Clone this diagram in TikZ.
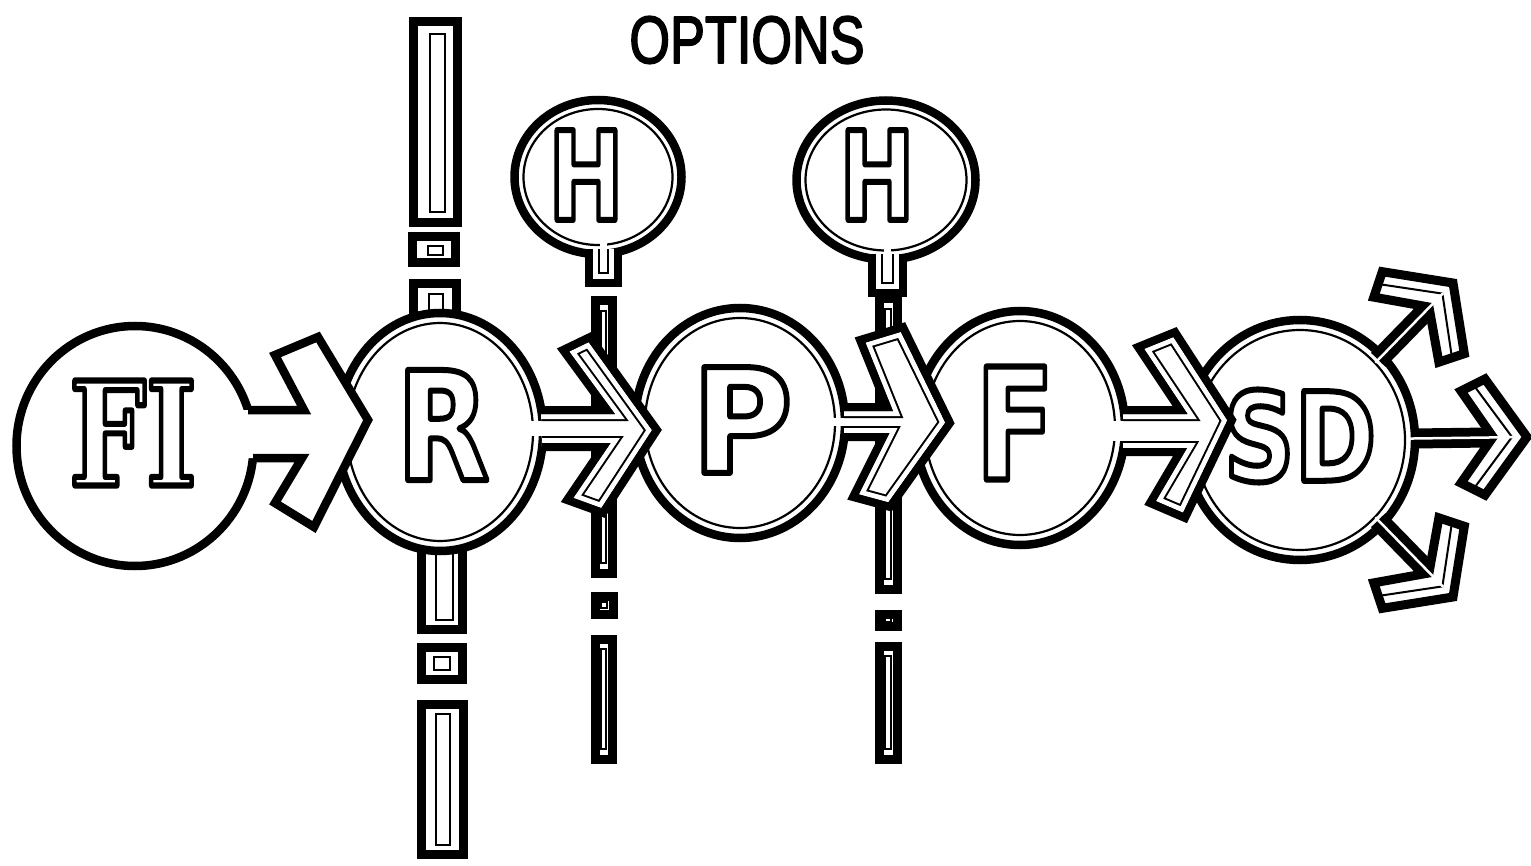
\documentclass[tikz,border=0pt]{standalone}
\usepackage{fontspec}
\usepackage{graphicx}
\usetikzlibrary{shapes.geometric,calc}
\newfontfamily\serifface{DejaVu Serif}
\newfontfamily\sansface{DejaVu Sans}
\newfontfamily\handface{Liberation Sans}
\newcommand\hollowtxt[1]{\special{pdf:literal direct 6 w 1 j 1 Tr}#1\special{pdf:literal direct 0 Tr}}
\newcommand\boldtxt[1]{\special{pdf:literal direct 1.8 w 1 j 2 Tr}#1\special{pdf:literal direct 0 Tr}}
\newcommand\bigletters[4]{{#1\fontsize{#2}{#2}\selectfont\scalebox{#3}[1]{\hollowtxt{#4}}}}
\newcommand\dblarrow[2]{%
  \fill[white] #2;
  \fill[white] #1 -- cycle;
  \begin{scope}
    \clip #1 -- cycle;
    \draw[line width=22pt] #1;
    \draw[white,line width=18pt] #1;
    \draw[line width=8pt] #1;
  \end{scope}
  \draw[line width=8pt] #1;
}
\tikzset{
  ring/.style={ellipse, draw, line width=8.5pt, fill=white, inner sep=0pt, outer sep=0pt},
  innerring/.style={ellipse, draw, line width=2.2pt, inner sep=0pt, outer sep=0pt},
  seg/.style={draw, line width=9pt, fill=white},
  slit/.style={draw, line width=2pt},
  letter/.style={inner sep=0pt, outer sep=0pt},
}
\begin{document}
\begin{tikzpicture}[x=1pt,y=-1pt,line join=miter,miter limit=4]
\fill[white] (0,0) rectangle (1531,866);
\useasboundingbox (0,0) rectangle (1531,866);

% ---- vertical bar through R
\draw[seg] (413,22) rectangle (457,223); \draw[slit] (430,34) rectangle (445,212);
\draw[seg] (412,237) rectangle (455,263); \draw[slit] (428,246) rectangle (443,255);
\draw[seg] (413,284) rectangle (456,340); \draw[slit] (429,294) rectangle (443,330);
\draw[seg] (421,530) rectangle (462,629); \draw[slit] (436,540) rectangle (453,620);
\draw[seg] (421,647) rectangle (462,679); \draw[slit] (434,657) rectangle (450,670);
\draw[seg] (421,704) rectangle (463,854); \draw[slit] (436,714) rectangle (450,845);
% ---- bar under first H
\draw[seg] (595,301) rectangle (612,573); \draw[slit] (601,311) rectangle (606,563);
\draw[seg] (595,596) rectangle (613,614); \draw[slit] (601,602) rectangle (607,608);
\draw[seg] (595,639) rectangle (612,759); \draw[slit] (601,649) rectangle (606,749);
% ---- bar under second H
\draw[seg] (879,299) rectangle (897,589); \draw[slit] (885,309) rectangle (891,579);
\draw[seg] (879,614) rectangle (897,626); \draw[slit] (885,618) rectangle (891,622);
\draw[seg] (879,646) rectangle (897,759); \draw[slit] (885,656) rectangle (891,749);

% ---- circles
\node[ring, minimum width=237pt, minimum height=240pt] (FI) at (135,446) {};
\node[ring, minimum width=206pt, minimum height=238pt] (R) at (440,432) {};
\node[innerring, minimum width=186pt, minimum height=218pt] (Rin) at (R.center) {};
\node[ring, minimum width=210pt, minimum height=230pt] (P) at (740,423) {};
\node[innerring, minimum width=190pt, minimum height=210pt] (Pin) at (P.center) {};
\node[ring, minimum width=210pt, minimum height=234pt] (F) at (1020,428) {};
\node[innerring, minimum width=190pt, minimum height=214pt] (Fin) at (F.center) {};
\node[ring, minimum width=230pt, minimum height=240pt] (SD) at (1300,440) {};
\node[innerring, minimum width=210pt, minimum height=220pt] (SDin) at (SD.center) {};
\node[ring, minimum width=167pt, minimum height=154pt] (H1) at (598,177) {};
\node[innerring, minimum width=149pt, minimum height=136pt] (H1in) at (H1.center) {};
\node[ring, minimum width=179pt, minimum height=159pt] (H2) at (886,180) {};
\node[innerring, minimum width=161pt, minimum height=141pt] (H2in) at (H2.center) {};

% ---- bubble stems of the H circles
\dblarrow{(589,249) -- (589,283) -- (618,283) -- (618,249)}{(600,240) rectangle (607,258)}
\dblarrow{(872,254) -- (872,293) -- (903,293) -- (903,254)}{(884,245) rectangle (891,263)}

% ---- FI -> R
\fill[white] (236,410) -- (304,410) -- (275,355) -- (318,337) -- (368,420) -- (314,527) -- (275,503) -- (302,458) -- (236,458) -- cycle;
\draw[line width=8.5pt] (248,410) -- (304,410) -- (275,355) -- (318,337) -- (368,420) -- (314,527) -- (275,503) -- (302,458) -- (253,458);
% ---- R -> P
\dblarrow{(541,410) -- (607,410) -- (563,350) -- (590,337) -- (657,430) -- (603,513) -- (567,500) -- (603,447) -- (542,447)}{(526,421) rectangle (545,436)}
% ---- P -> F
\dblarrow{(844,407) -- (887,407) -- (860,340) -- (903,327) -- (950,423) -- (890,507) -- (853,497) -- (883,437) -- (844,437)}{(830,418) rectangle (848,426)}
% ---- F -> SD
\dblarrow{(1123,410) -- (1180,410) -- (1138,347) -- (1175,332) -- (1232,420) -- (1185,518) -- (1150,503) -- (1180,452) -- (1123,452)}{(1108,421) rectangle (1127,441)}

% ---- SD outputs
\coordinate (o1) at (1453,283);
\coordinate (o2) at (1527,437);
\coordinate (o3) at (1453,597);
\foreach \o/\a in {o1/45,o2/0,o3/-45}{
  \draw[line width=20pt] ($(SD.center)!112pt!(\o)$) -- ($(\o)!36pt!(SD.center)$);
  \begin{scope}[shift={(\o)}, rotate=\a]
    \filldraw[fill=white, line width=9pt] (0,0) -- (-42,-58) -- (-66,-46) -- (-34,0) -- (-66,46) -- (-42,58) -- cycle;
    \draw[line width=2pt] (-52,-50) -- (-15,0) -- (-52,50);
  \end{scope}
  \draw[white, line width=2.5pt] ($(SD.center)!108pt!(\o)$) -- ($(\o)!14pt!(SD.center)$);
}

% ---- letters
\node[letter] (FIt) at (133,433) {\bigletters{\serifface\bfseries}{144}{0.75}{FI}};
\node[letter] (Rt) at (443,425) {\bigletters{\sansface\bfseries}{151}{0.8}{R}};
\node[letter] (Pt) at (742,420) {\bigletters{\sansface\bfseries}{145}{0.95}{P}};
\node[letter] (Ft) at (1015,423) {\bigletters{\sansface\bfseries}{155}{0.75}{F}};
\node[letter] (SDt) at (1300,436) {\bigletters{\sansface\bfseries}{123}{0.8}{SD}};
\node[letter] (H1t) at (586,175) {\bigletters{\sansface\bfseries}{123}{0.73}{H}};
\node[letter] (H2t) at (877,175) {\bigletters{\sansface\bfseries}{123}{0.73}{H}};
\node[letter] (options) at (747,40) {\handface\fontsize{67}{67}\selectfont\scalebox{0.78}[1]{\boldtxt{OPTIONS}}};
\end{tikzpicture}
\end{document}
